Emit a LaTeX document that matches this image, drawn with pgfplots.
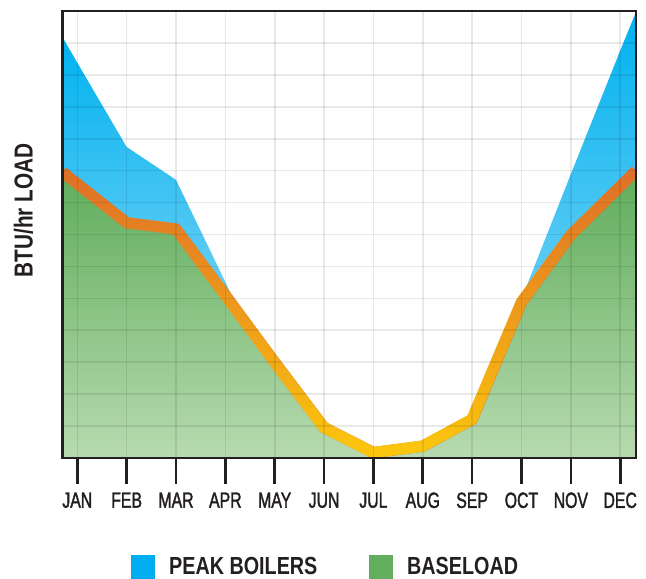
\documentclass[border=0pt]{standalone}
\usepackage{fontspec}
\usepackage{pgfplots}
\usepackage{pgfplotstable}
\pgfplotsset{compat=1.18}
\usetikzlibrary{fadings}
\setmainfont{Liberation Sans}
\newfontfamily\monthfont[FakeStretch=0.72,FakeBold=1.6]{Liberation Sans}
\newfontfamily\headfont[FakeStretch=0.8]{Liberation Sans}

\definecolor{ink}{HTML}{231F20}
\definecolor{peaktop}{HTML}{00B2EF}
\definecolor{peakbot}{HTML}{72D1F6}
\definecolor{basetop}{HTML}{5FAD5B}
\definecolor{basebot}{HTML}{B7DAAF}
\definecolor{bandtop}{HTML}{DE6E29}
\definecolor{bandbot}{HTML}{FDC80D}
\definecolor{legblue}{HTML}{00AEEF}
\definecolor{leggreen}{HTML}{62AD5E}

% baseload (centre of the orange band), month index 0 = JAN
\pgfplotstableread{
x v
-0.304 8.96
0 8.59
1 7.37
2 7.17
3 5.10
4 3.00
5 0.955
6 0.17
7 0.37
8 1.21
9 4.88
10 6.99
11 8.51
11.32 9.00
}\baseload

\begin{document}
\begin{tikzpicture}
\useasboundingbox (0,0) rectangle (646bp,579bp);
\begin{axis}[
    at={(62.3bp,121bp)}, anchor=south west,
    scale only axis,
    width=573.7bp, height=447bp,
    xmin=-0.304, xmax=11.32,
    ymin=0, ymax=14,
    axis on top,
    axis line style={ink, line width=2.5bp},
    xtick={0,...,11},
    xticklabels={JAN,FEB,MAR,APR,MAY,JUN,JUL,AUG,SEP,OCT,NOV,DEC},
    xticklabel style={font=\monthfont\fontsize{22bp}{24bp}\selectfont, text=ink, yshift=-5bp},
    ytick={1,...,13},
    yticklabels={},
    xtick pos=left,
    tick align=outside,
    major tick length=26bp,
    xtick style={ink, line width=2.7bp},
    ytick style={draw=none},
    xmajorgrids, ymajorgrids,
    grid style={black, opacity=0.085, line width=1.6bp},
]
% peak boilers, left part
\addplot[draw=none, top color=peaktop, middle color=peaktop, bottom color=peakbot]
    coordinates {(-0.304,13.19) (0,12.38) (1,9.74) (2,8.71) (3,5.51) (3.37,4.32)
                 (3,5.10) (2,7.17) (1,7.37) (0,8.59) (-0.304,8.96)} -- cycle;
% peak boilers, right part
\addplot[draw=none, top color=peaktop, middle color=peaktop, bottom color=peakbot]
    coordinates {(8.7,3.79) (9,4.98) (10,8.89) (11,12.76) (11.32,13.97)
                 (11.32,9.00) (11,8.51) (10,6.99) (9,4.88)} -- cycle;
% baseload area
\addplot[draw=none, top color=basetop, bottom color=basebot] table {\baseload} \closedcycle;
% orange band
\addplot[draw=bandtop, line width=11.2bp, line join=miter] table {\baseload};
\addplot[draw=bandbot, line width=11.2bp, line join=miter, path fading=north] table {\baseload};
\end{axis}
\node[rotate=90, anchor=base, inner sep=0, text=ink,
      font=\headfont\bfseries\fontsize{26bp}{30bp}\selectfont] at (32.7bp,368.5bp) {BTU/hr LOAD};
% legend
\fill[legblue] (131bp,0bp) rectangle (155bp,23.5bp);
\node[anchor=base west, inner sep=0, text=ink,
      font=\headfont\bfseries\fontsize{24.7bp}{28bp}\selectfont] at (169bp,5bp) {PEAK BOILERS};
\fill[leggreen] (369bp,0bp) rectangle (393bp,23.5bp);
\node[anchor=base west, inner sep=0, text=ink,
      font=\headfont\bfseries\fontsize{24.7bp}{28bp}\selectfont] at (407bp,5bp) {BASELOAD};
\end{tikzpicture}
\end{document}
